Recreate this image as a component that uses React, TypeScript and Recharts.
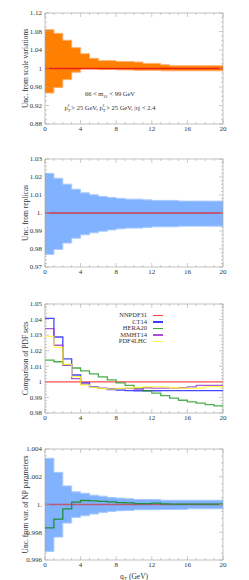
import React from 'react'
import { ComposedChart, Area, Line, XAxis, YAxis, ReferenceLine, ReferenceArea } from 'recharts'

// bin edges in qT (GeV), 20 bins of 1 GeV
const BIN_EDGES = [0, 1, 2, 3, 4, 5, 6, 7, 8, 9, 10, 11, 12, 13, 14, 15, 16, 17, 18, 19, 20]
const X_MAJORS = [0, 4, 8, 12, 16, 20]

// panel 1: scale variations
const scaleUp = [1.084, 1.076, 1.061, 1.045, 1.032, 1.022, 1.017, 1.017, 1.015, 1.015, 1.014, 1.011, 1.011, 1.008, 1.006, 1.006, 1.006, 1.006, 1.006, 1.006]
const scaleDown = [0.947, 0.959, 0.976, 0.992, 0.999, 0.999, 0.998, 0.998, 0.997, 0.997, 0.996, 0.996, 0.996, 0.995, 0.995, 0.995, 0.995, 0.995, 0.995, 0.995]
const scaleTicks = [0.88, 0.92, 0.96, 1, 1.04, 1.08, 1.12]

// panel 2: replicas
const repUp = [1.022, 1.0193, 1.016, 1.0132, 1.0112, 1.0101, 1.0092, 1.0086, 1.0081, 1.0077, 1.0077, 1.0073, 1.007, 1.007, 1.007, 1.0066, 1.0066, 1.0066, 1.0066, 1.0066]
const repDown = [0.977, 0.9798, 0.9833, 0.986, 0.9879, 0.989, 0.9899, 0.9906, 0.9912, 0.9916, 0.9916, 0.992, 0.9923, 0.9923, 0.9923, 0.9927, 0.9927, 0.9927, 0.9927, 0.9927]
const repTicks = [0.97, 0.98, 0.99, 1, 1.01, 1.02, 1.03]

// panel 3: PDF sets
const nnpdf31 = [1, 1, 1, 1, 1, 1, 1, 1, 1, 1, 1, 1, 1, 1, 1, 1, 1, 1, 1, 1]
const ct14 = [1.0408, 1.0288, 1.0148, 1.0044, 0.9994, 0.9968, 0.9958, 0.9951, 0.9947, 0.9944, 0.9943, 0.9943, 0.9943, 0.9944, 0.9944, 0.9944, 0.9944, 0.9944, 0.9944, 0.9944]
const hera20 = [1.014, 1.0129, 1.011, 1.0089, 1.007, 1.0051, 1.0032, 1.0013, 0.9994, 0.9977, 0.996, 0.9943, 0.9928, 0.9911, 0.9896, 0.9882, 0.9871, 0.9863, 0.9854, 0.9846]
const mmht14 = [1.0342, 1.0235, 1.0106, 1.0021, 0.9985, 0.9964, 0.9958, 0.9956, 0.9956, 0.9958, 0.9953, 0.9962, 0.996, 0.996, 0.996, 0.9962, 0.9968, 0.9977, 0.9977, 0.9977]
const pdf4lhc = [1.0292, 1.0222, 1.0112, 1.0034, 0.9981, 0.9964, 0.9956, 0.9953, 0.9958, 0.996, 0.9964, 0.9968, 0.9968, 0.9968, 0.9962, 0.996, 0.9958, 0.996, 0.997, 0.997]
const pdfTicks = [0.98, 0.99, 1, 1.01, 1.02, 1.03, 1.04, 1.05]

// panel 4: NP parameters
const npUp = [1.00333, 1.00232, 1.00134, 1.00091, 1.00081, 1.00067, 1.0006, 1.0005, 1.00046, 1.00041, 1.00036, 1.00036, 1.00036, 1.00031, 1.00031, 1.00031, 1.00031, 1.00031, 1.00031, 1.00031]
const npDown = [0.99662, 0.99765, 0.99866, 0.99907, 0.99919, 0.99931, 0.99943, 0.9995, 0.99955, 0.99957, 0.99962, 0.99962, 0.99962, 0.99964, 0.99964, 0.99964, 0.99969, 0.99969, 0.99969, 0.99969]
const npGreen = [0.99832, 0.99895, 0.99969, 1.00017, 1.00029, 1.00026, 1.00022, 1.00019, 1.00014, 1.00012, 1.00007, 1.00007, 1.0001, 1.00005, 1.00002, 1.00002, 1.00002, 1.00002, 1.00002, 1.00002]
const npTicks = [0.996, 0.998, 1, 1.002, 1.004]

const PDF_SETS = [
  { key: 'nnpdf31', name: 'NNPDF31', color: '#ff2020', values: nnpdf31 },
  { key: 'ct14', name: 'CT14', color: '#1a1aff', values: ct14 },
  { key: 'hera20', name: 'HERA20', color: '#1f9a1f', values: hera20 },
  { key: 'mmht14', name: 'MMHT14', color: '#9b30d0', values: mmht14 },
  { key: 'pdf4lhc', name: 'PDF4LHC', color: '#ffff20', values: pdf4lhc },
]

const FONT = '"Liberation Serif", "DejaVu Serif", serif'
const FRAME = '#a8a8a8'
const TEXT = '#333'
const W = 249
const H = 145
const MR = 26
const YW = 45

// step histograms: repeat last bin value at the right edge
const stepRows = (cols: Record<string, number[]>) =>
  BIN_EDGES.map((x, i) => {
    const row: Record<string, any> = { x }
    Object.entries(cols).forEach(([k, v]) => {
      row[k] = v[Math.min(i, v.length - 1)]
    })
    return row
  })

const withBand = (up: number[], down: number[], extra: Record<string, number[]> = {}) =>
  stepRows({ up, down, ...extra }).map((r) => ({ ...r, band: [r.down, r.up] }))

const near = (a: number, b: number) => Math.abs(a - b) < 1e-9

function Panel(props: {
  mt: number
  plotH: number
  data: any[]
  ticks: number[]
  minorStep: number
  fmt: (v: number) => string
  label: string
  xLabel?: boolean
  children: React.ReactNode
}) {
  const { mt, plotH, data, ticks, minorStep, fmt, label, xLabel } = props
  const lo = ticks[0]
  const hi = ticks[ticks.length - 1]
  const n = Math.round((hi - lo) / minorStep)
  const allY: number[] = []
  for (let i = 0; i <= n; i++) allY.push(+(lo + i * minorStep).toFixed(6))
  const plotRight = W - MR

  const XTick = (p: any) => {
    const { x, y, payload } = p
    const v = payload.value
    const major = X_MAJORS.includes(v)
    const len = major ? 4 : 2
    return (
      <g>
        <line x1={x} x2={x} y1={y} y2={y - len} stroke={FRAME} strokeWidth={0.6} />
        <line x1={x} x2={x} y1={mt} y2={mt + len} stroke={FRAME} strokeWidth={0.6} />
        {major && (
          <text x={x} y={y + 7} textAnchor="middle" fontSize={7} fontFamily={FONT} fill={TEXT}>
            {v}
          </text>
        )}
      </g>
    )
  }

  const YTick = (p: any) => {
    const { x, y, payload } = p
    const v = payload.value
    const major = ticks.some((t) => near(t, v))
    const len = major ? 4 : 2
    return (
      <g>
        <line x1={x} x2={x + len} y1={y} y2={y} stroke={FRAME} strokeWidth={0.6} />
        <line x1={plotRight} x2={plotRight - len} y1={y} y2={y} stroke={FRAME} strokeWidth={0.6} />
        {major && (
          <text x={x - 3} y={y + 2.3} textAnchor="end" fontSize={7} fontFamily={FONT} fill={TEXT}>
            {fmt(v)}
          </text>
        )}
      </g>
    )
  }

  const YLabel = (p: any) => {
    const vb = p.viewBox
    const cy = vb.y + vb.height / 2
    return (
      <text x={25} y={cy} transform={`rotate(-90 25 ${cy})`} textAnchor="middle" fontSize={7.5} fontFamily={FONT} fill={TEXT} dy={2.5}>
        {label}
      </text>
    )
  }

  return (
    <ComposedChart width={W} height={H} data={data} margin={{ top: mt, right: MR, left: 0, bottom: 0 }}>
      <XAxis
        dataKey="x"
        type="number"
        domain={[0, 20]}
        ticks={BIN_EDGES}
        interval={0}
        tick={XTick}
        tickLine={false}
        axisLine={false}
        tickSize={0}
        tickMargin={0}
        height={H - mt - plotH}
        label={
          xLabel
            ? (p: any) => (
                <text x={p.viewBox.x + p.viewBox.width / 2} y={p.viewBox.y + 19} textAnchor="middle" fontSize={7.5} fontFamily={FONT} fill={TEXT}>
                  q
                  <tspan fontSize={5.5} dy={1.5}>T</tspan>
                  <tspan dy={-1.5}> (GeV)</tspan>
                </text>
              )
            : undefined
        }
      />
      <YAxis
        type="number"
        domain={[lo, hi]}
        ticks={allY}
        interval={0}
        tick={YTick}
        tickLine={false}
        axisLine={false}
        tickSize={0}
        tickMargin={0}
        width={YW}
        allowDataOverflow
        label={<YLabel />}
      />
      {props.children}
      <ReferenceArea x1={0} x2={20} y1={lo} y2={hi} fill="none" stroke={FRAME} strokeWidth={0.7} />
    </ComposedChart>
  )
}

const fmtPlain = (v: number) => (near(v, 1) ? '1' : String(v))
const fmtDot = (v: number) => (near(v, 1) ? '1.' : String(v))

const scaleData = withBand(scaleUp, scaleDown)
const repData = withBand(repUp, repDown)
const npData = withBand(npUp, npDown, { green: npGreen })
const pdfData = stepRows(Object.fromEntries(PDF_SETS.map((s) => [s.key, s.values])))

function PdfLegend() {
  return (
    <div style={{ position: 'absolute', left: 90, top: 22, width: 75, fontFamily: FONT, fontSize: 6.5, color: TEXT, lineHeight: '6.5px' }}>
      {PDF_SETS.map((s) => (
        <div key={s.key} style={{ display: 'flex', alignItems: 'center', justifyContent: 'flex-end', height: 6.5 }}>
          <span>{s.name}</span>
          <span style={{ display: 'inline-block', width: 10, height: 1.5, background: s.color, marginLeft: 6, marginRight: 2, opacity: 0.85 }} />
        </div>
      ))}
    </div>
  )
}

export default function App() {
  return (
    <div style={{ position: 'absolute', left: 0, top: 0, width: W, height: 580, background: '#fff' }}>
      <div style={{ position: 'relative', height: H }}>
        <Panel mt={13} plotH={111} data={scaleData} ticks={scaleTicks} minorStep={0.01} fmt={fmtPlain} label="Unc. from scale variations">
          <Area dataKey="band" type="stepAfter" fill="#ff8000" fillOpacity={1} stroke="#ffb070" strokeWidth={1} isAnimationActive={false} />
          <ReferenceLine y={1} stroke="#ee2010" strokeWidth={1.3} />
        </Panel>
        <div style={{ position: 'absolute', left: 45, width: 130, top: 89, fontFamily: FONT, fontSize: 6.5, color: TEXT, textAlign: 'center', lineHeight: '9px' }}>
          <div>
            66 &lt; m<sub style={{ fontSize: 4.5 }}>ℓℓ</sub> &lt; 99 GeV
          </div>
          <div>
            p<sub style={{ fontSize: 4.5 }}>T</sub><sup style={{ fontSize: 4.5, marginLeft: -3 }}>ℓ</sup> &gt; 25 GeV, p<sub style={{ fontSize: 4.5 }}>T</sub><sup style={{ fontSize: 4.5, marginLeft: -3 }}>ℓ</sup> &gt; 25 GeV, |η| &lt; 2.4
          </div>
        </div>
      </div>
      <div style={{ position: 'relative', height: H }}>
        <Panel mt={14} plotH={108} data={repData} ticks={repTicks} minorStep={0.002} fmt={fmtDot} label="Unc. from replicas">
          <Area dataKey="band" type="stepAfter" fill="#80b2ff" fillOpacity={1} stroke="#a8caff" strokeWidth={1} isAnimationActive={false} />
          <ReferenceLine y={1} stroke="#e02020" strokeOpacity={0.8} strokeWidth={1.3} />
        </Panel>
      </div>
      <div style={{ position: 'relative', height: H }}>
        <Panel mt={14} plotH={109} data={pdfData} ticks={pdfTicks} minorStep={0.002} fmt={fmtPlain} label="Comparison of PDF sets">
          {PDF_SETS.map((s) => (
            <Line key={s.key} dataKey={s.key} name={s.name} type="stepAfter" stroke={s.color} strokeWidth={1.3} strokeOpacity={0.8} dot={false} isAnimationActive={false} />
          ))}
        </Panel>
        <PdfLegend />
      </div>
      <div style={{ position: 'relative', height: H }}>
        <Panel mt={14} plotH={111} data={npData} ticks={npTicks} minorStep={0.0005} fmt={fmtDot} label="Unc. from var. of NP parameters" xLabel>
          <Area dataKey="band" type="stepAfter" fill="#80b2ff" fillOpacity={1} stroke="#a8caff" strokeWidth={1} isAnimationActive={false} />
          <ReferenceLine y={1} stroke="#e02020" strokeOpacity={0.6} strokeWidth={1.3} />
          <Line dataKey="green" type="stepAfter" stroke="#1f8f3a" strokeWidth={1.3} dot={false} isAnimationActive={false} />
        </Panel>
      </div>
    </div>
  )
}
